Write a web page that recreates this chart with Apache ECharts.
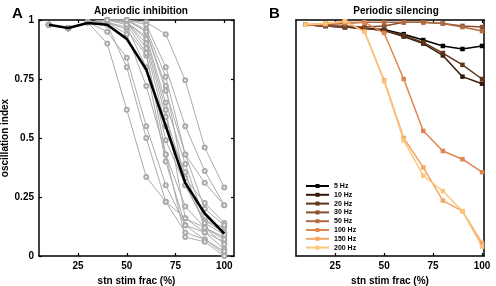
<!DOCTYPE html>
<html><head><meta charset="utf-8">
<script src="https://cdn.jsdelivr.net/npm/echarts@6/dist/echarts.min.js"></script>
<style>html,body{margin:0;padding:0;background:#fff}#c{width:496px;height:286px}</style>
</head><body><div id="c"></div>
<script>
// ---- data ----
const stimFrac = [10,20,30,40,50,60,70,80,90,100];
const xTicks = [25,50,75,100];
const yTicksA = [0,0.25,0.5,0.75,1];

// Panel A: individual runs (gray)
const grayRuns = [
  [.98,.965,.99,.90,.62,.335,.23,.16,.12,.08],
  [.98,.965,.99,.95,.84,.55,.30,.13,.10,.06],
  [.98,.965,.99,.98,.80,.50,.23,.10,.07,.01],
  [.98,.965,.99,.99,.94,.72,.43,.21,.12,.07],
  [.98,.965,.99,.99,.96,.85,.49,.30,.15,.12],
  [.98,.965,.99,1,.99,.90,.59,.33,.225,.14],
  [.98,.965,.99,1,.99,.93,.65,.39,.15,.10],
  [.98,.965,.99,1,1,.95,.70,.43,.31,.215],
  [.98,.965,.99,1,1,.99,.94,.745,.46,.29],
  [.98,.965,.99,1,1,.98,.80,.55,.36,.215],
  [.98,.965,.99,1,1,.96,.76,.43,.20,.13],
  [.98,.965,.99,1,.99,.88,.55,.355,.12,.05],
  [.98,.965,.99,1,.99,.92,.62,.16,.10,.03],
  [.98,.965,.99,.99,.97,.80,.40,.13,.07,.02],
  [.98,.965,.99,1,1,.95,.72,.30,.14,.09],
  [.98,.965,.99,1,.98,.86,.43,.08,.06,0]
];
const meanRun = [.98,.966,.987,.98,.92,.79,.55,.31,.18,.095];

// Panel B
const freqNames = ['5 Hz','10 Hz','20 Hz','30 Hz','50 Hz','100 Hz','150 Hz','200 Hz'];
const freqColors = ['#000000','#34180a','#623419','#8a4f2c','#b26b40','#de8650','#f4a662','#fbc57e'];
const freqValues = [
  [.98,.975,.97,.965,.96,.94,.915,.89,.877,.89],
  [.98,.975,.97,.965,.955,.93,.90,.85,.76,.73],
  [.98,.975,.97,.965,.955,.935,.905,.86,.81,.75],
  [.98,.975,.975,.97,.975,.99,.99,.985,.975,.97],
  [.98,.98,.985,.99,.99,.99,.99,.985,.97,.953],
  [.98,.985,.99,.99,.945,.75,.53,.445,.41,.355],
  [.98,.985,.995,.95,.745,.50,.375,.235,.19,.055],
  [.98,.985,.995,.95,.74,.49,.34,.275,.19,.04]
];

// ---- chart ----
const FONT = 'Liberation Sans, Arial, sans-serif';
const pairs = v => stimFrac.map((x,i)=>[x,v[i]]);
const chart = echarts.init(document.getElementById('c'), null, {renderer:'canvas'});

const axLine = {show:true, onZero:false, lineStyle:{color:'#000', width:1.5}};
const tickIn = {show:true, inside:true, length:3, lineStyle:{color:'#000', width:1.2}};
const lab = {color:'#000', fontSize:10, fontWeight:'bold', fontFamily:FONT};

function xAxes(max) {
  return [
    {type:'value', min:5, max:max, position:'bottom',
     axisLine:axLine, axisTick:Object.assign({customValues:xTicks}, tickIn),
     axisLabel:Object.assign({customValues:xTicks, margin:5}, lab), splitLine:{show:false},
     name:'stn stim frac (%)', nameLocation:'middle', nameGap:17,
     nameTextStyle:{color:'#000', fontSize:10, fontWeight:'bold', fontFamily:FONT}},
    {type:'value', min:5, max:max, position:'top',
     axisLine:axLine, axisTick:Object.assign({customValues:xTicks}, tickIn),
     axisLabel:{show:false}, splitLine:{show:false}}
  ];
}

const series = [];
grayRuns.forEach(r => series.push({
  type:'line', xAxisIndex:0, yAxisIndex:0, data:pairs(r), symbol:'emptyCircle', symbolSize:4,
  lineStyle:{color:'#ababab', width:1}, itemStyle:{color:'#ababab', borderWidth:1},
  animation:false, silent:true
}));
series.push({
  type:'line', xAxisIndex:0, yAxisIndex:0, data:pairs(meanRun), showSymbol:false,
  lineStyle:{color:'#000', width:2.6}, animation:false, z:5
});
freqValues.forEach((v,i) => series.push({
  type:'line', name:freqNames[i], xAxisIndex:2, yAxisIndex:2, data:pairs(v), symbol:'rect', symbolSize:4.5,
  lineStyle:{color:freqColors[i], width:1.5}, itemStyle:{color:freqColors[i]}, animation:false
}));

const gridBase = {outerBoundsMode:'none', containLabel:false};
chart.setOption({
  animation:false,
  textStyle:{fontFamily:FONT},
  title:[
    {text:'A', left:7, top:1, textStyle:{fontSize:15, fontWeight:'bold', color:'#000', fontFamily:FONT}},
    {text:'Aperiodic inhibition', left:136, top:1, textAlign:'center', textStyle:{fontSize:10, fontWeight:'bold', color:'#000', fontFamily:FONT}},
    {text:'B', left:264, top:1, textStyle:{fontSize:15, fontWeight:'bold', color:'#000', fontFamily:FONT}},
    {text:'Periodic silencing', left:391, top:1, textAlign:'center', textStyle:{fontSize:10, fontWeight:'bold', color:'#000', fontFamily:FONT}}
  ],
  grid:[
    Object.assign({left:39, top:20, width:195, height:236}, gridBase),
    Object.assign({left:39, top:20, width:195, height:236}, gridBase),
    Object.assign({left:296, top:20, width:188, height:236}, gridBase),
    Object.assign({left:296, top:20, width:188, height:236}, gridBase)
  ],
  xAxis:[].concat(xAxes(105), xAxes(101)).map((a,i)=>{a.gridIndex=i; return a;}),
  yAxis:[
    {gridIndex:0, type:'value', min:0, max:1, interval:0.25, position:'left',
     axisLine:axLine, axisTick:tickIn, axisLabel:Object.assign({margin:5}, lab), splitLine:{show:false},
     name:'oscillation index', nameLocation:'middle', nameGap:23,
     nameTextStyle:{color:'#000', fontSize:10, fontWeight:'bold', fontFamily:FONT}},
    {gridIndex:1, type:'value', min:0, max:1, interval:0.25, position:'right',
     axisLine:axLine, axisTick:tickIn, axisLabel:{show:false}, splitLine:{show:false}},
    {gridIndex:2, type:'value', min:0, max:1, position:'left',
     axisLine:axLine, axisTick:{show:false}, axisLabel:{show:false}, splitLine:{show:false}},
    {gridIndex:3, type:'value', min:0, max:1, position:'right',
     axisLine:axLine, axisTick:{show:false}, axisLabel:{show:false}, splitLine:{show:false}}
  ],
  legend:{
    data:freqNames, orient:'vertical', left:305, top:182, itemWidth:23, itemHeight:5, itemGap:0.8,
    padding:0,
    textStyle:{fontSize:7, lineHeight:8, fontWeight:'bold', color:'#000', fontFamily:FONT},
    selectedMode:false
  },
  series:series
});
</script></body></html>
